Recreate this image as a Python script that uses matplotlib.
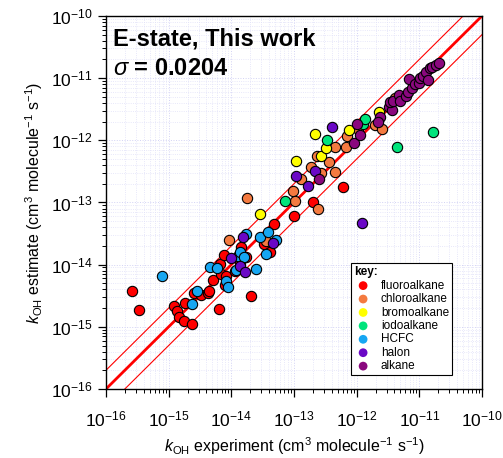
import numpy as np
import matplotlib
matplotlib.use("Agg")
import matplotlib.pyplot as plt
from matplotlib.ticker import LogLocator, NullFormatter

plt.rcParams['font.family'] = ['Liberation Sans', 'DejaVu Sans']
plt.rcParams['mathtext.fontset'] = 'custom'
plt.rcParams['mathtext.rm'] = 'Liberation Sans'
plt.rcParams['mathtext.it'] = 'Liberation Sans:italic'
plt.rcParams['mathtext.bf'] = 'Liberation Sans:bold'

# log10 of k_OH (experiment, estimate)
fluoro_x = [-15.58, -15.48, -14.92, -14.86, -14.84, -14.76, -14.62, -14.74, -14.59, -14.48,
            -14.37, -14.35, -14.30, -14.19, -14.18, -14.17, -14.11, -14.08, -13.94, -13.84,
            -13.76, -13.86, -13.69, -13.48, -13.38, -13.32, -13.00, -12.69, -12.22, -14.10]
fluoro_y = [-14.43, -14.73, -14.67, -14.74, -14.84, -14.90, -14.95, -14.61, -14.45, -14.49,
            -14.46, -14.42, -14.24, -14.72, -13.99, -14.15, -13.84, -14.19, -14.10, -13.72,
            -13.88, -13.98, -14.50, -13.66, -13.79, -13.34, -13.21, -13.00, -12.75, -14.33]

chloro_x = [-13.75, -14.03, -13.44, -13.01, -12.99, -12.62, -12.89, -12.73, -12.64, -12.57,
            -12.44, -12.35, -12.34, -12.16, -12.17, -11.98, -11.71, -11.60, -11.38]
chloro_y = [-12.92, -13.61, -13.62, -12.81, -12.97, -13.10, -12.62, -12.43, -12.26, -12.52,
            -12.35, -12.51, -12.11, -11.93, -12.10, -11.81, -11.75, -11.81, -11.32]

bromo_x = [-13.54, -12.96, -12.57, -12.49, -12.66, -12.12, -11.64]
bromo_y = [-13.19, -12.33, -12.25, -12.12, -11.90, -11.84, -11.55]

iodo_x = [-13.15, -12.47, -11.90, -11.86, -11.36, -10.78]
iodo_y = [-12.97, -12.00, -11.73, -11.66, -12.11, -11.87]

hcfc_x = [-15.11, -14.63, -14.54, -14.34, -14.23, -14.08, -14.06, -13.92, -13.90, -13.86,
          -13.79, -13.77, -13.61, -13.54, -13.45, -13.41, -13.29]
hcfc_y = [-14.18, -14.63, -14.42, -14.04, -14.06, -14.27, -14.36, -14.08, -13.86, -13.79,
          -13.88, -13.50, -14.07, -13.55, -13.83, -13.47, -13.61]

halon_x = [-14.01, -13.86, -13.81, -13.78, -13.34, -12.97, -12.77, -12.67, -12.40, -11.92]
halon_y = [-13.89, -14.02, -13.56, -14.12, -13.65, -12.57, -12.74, -12.50, -11.79, -13.33]

alkane_x = [-12.60, -12.04, -12.00, -11.95, -11.63, -11.66, -11.48, -11.44, -11.47, -11.42,
            -11.32, -11.31, -11.22, -11.18, -11.12, -11.16, -11.07, -11.00, -10.99, -10.94,
            -10.89, -10.83, -10.79, -10.74, -10.68, -10.86]
alkane_y = [-12.63, -12.05, -11.74, -11.91, -11.63, -11.70, -11.46, -11.51, -11.39, -11.37,
            -11.27, -11.37, -11.28, -11.22, -11.16, -11.01, -11.10, -11.08, -11.00, -10.96,
            -10.90, -10.83, -10.82, -10.79, -10.75, -11.03]

groups = [
    ('fluoroalkane', fluoro_x, fluoro_y, '#ff0000'),
    ('chloroalkane', chloro_x, chloro_y, '#f47a40'),
    ('bromoalkane', bromo_x, bromo_y, '#ffff00'),
    ('iodoalkane', iodo_x, iodo_y, '#00e47c'),
    ('HCFC', hcfc_x, hcfc_y, '#16a6f2'),
    ('halon', halon_x, halon_y, '#6a08c6'),
    ('alkane', alkane_x, alkane_y, '#8a087e'),
]

lo, hi = 1e-16, 1e-10
factor = 2.0

fig = plt.figure(figsize=(5.03, 4.58), dpi=100)
ax = fig.add_axes([0.2107, 0.1507, 0.7475, 0.8144])
ax.set_xscale('log')
ax.set_yscale('log')
ax.set_xlim(lo, hi)
ax.set_ylim(lo, hi)

# 1:1 line and factor-of-two band
line = np.array([lo, hi])
ax.plot(line, line, color='red', lw=2.0, zorder=2)
ax.plot(line, line * factor, color='red', lw=0.8, zorder=2)
ax.plot(line, line / factor, color='red', lw=0.8, zorder=2)

for name, xs, ys, col in groups:
    ax.scatter(10.0 ** np.array(xs), 10.0 ** np.array(ys), s=55, c=col,
               edgecolors='black', linewidths=0.8, zorder=3, label=name)

for axis in (ax.xaxis, ax.yaxis):
    axis.set_major_locator(LogLocator(base=10, numticks=10))
    axis.set_minor_locator(LogLocator(base=10, subs=np.arange(2, 10), numticks=10))
    axis.set_minor_formatter(NullFormatter())

ax.grid(True, which='major', color='#d2d2f4', linestyle=':', lw=0.7, zorder=0)
ax.grid(True, which='minor', color='#e0e0f8', linestyle=':', lw=0.6, zorder=0)
ax.set_axisbelow(True)
ax.tick_params(which='both', direction='out', top=False, right=False, labelsize=12.5)
ax.tick_params(which='major', length=6, width=0.9)
ax.tick_params(which='minor', length=3, width=0.7)
ax.tick_params(axis='x', which='major', pad=9)
for sp in ax.spines.values():
    sp.set_linewidth(1.0)

ax.set_xlabel(r'$k_{\mathrm{OH}}$ experiment (cm$^{3}$ molecule$^{-1}$ s$^{-1}$)', fontsize=11.5, labelpad=4)
ax.set_ylabel(r'$k_{\mathrm{OH}}$ estimate (cm$^{3}$ molecule$^{-1}$ s$^{-1}$)', fontsize=11.5, labelpad=4)

ax.text(0.019, 0.920, 'E-state, This work', transform=ax.transAxes, fontsize=17,
        fontweight='bold', va='baseline', ha='left')
ax.text(0.019, 0.842, r'$\sigma$ = 0.0204', transform=ax.transAxes, fontsize=17,
        fontweight='bold', va='baseline', ha='left')

leg = ax.legend(loc='lower right', bbox_to_anchor=(0.92, 0.037), title='key:',
                fontsize=8.5, title_fontsize=8.5, frameon=True, fancybox=False,
                framealpha=1, edgecolor='black', borderpad=0.25, labelspacing=0.12,
                handletextpad=0.7, handlelength=1.6, markerscale=0.85, borderaxespad=0)
leg.get_title().set_fontweight('bold')
leg._legend_box.align = 'left'
leg._legend_box.sep = 1
leg.get_frame().set_linewidth(0.8)
for h in leg.legend_handles:
    h.set_edgecolor('none')

fig.savefig('out.png', dpi=100)
